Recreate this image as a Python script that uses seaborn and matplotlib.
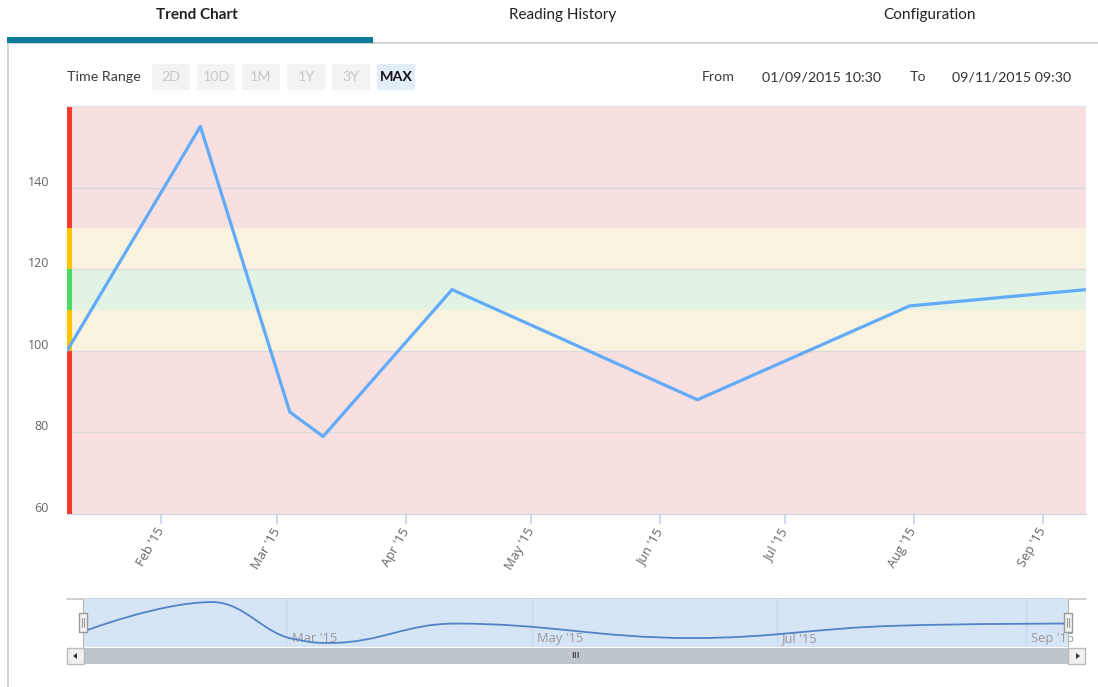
import matplotlib
matplotlib.use("Agg")
import matplotlib.pyplot as plt
import matplotlib.dates as mdates
from matplotlib.path import Path
from matplotlib.patches import PathPatch, Rectangle, Polygon
from matplotlib.transforms import ScaledTranslation
import numpy as np
import pandas as pd
import seaborn as sns

# ---- data ----
reading_times = ["2015-01-09 10:30", "2015-02-10 12:00", "2015-03-04 00:00", "2015-03-12 00:00",
                 "2015-04-12 00:00", "2015-06-10 00:00", "2015-07-31 00:00", "2015-09-11 09:30"]
reading_values = [100, 155, 85, 79, 115, 88, 111, 115]

range_start = "2015-01-09 10:30"
range_end = "2015-09-11 09:30"

month_ticks = ["2015-02-01", "2015-03-01", "2015-04-01", "2015-05-01",
               "2015-06-01", "2015-07-01", "2015-08-01", "2015-09-01"]
month_labels = ["Feb '15", "Mar '15", "Apr '15", "May '15",
                "Jun '15", "Jul '15", "Aug '15", "Sep '15"]

nav_ticks = ["2015-03-01", "2015-05-01", "2015-07-01", "2015-09-01"]
nav_labels = ["Mar '15", "May '15", "Jul '15", "Sep '15"]

y_ticks = [60, 80, 100, 120, 140]
y_min, y_max = 60, 160

# limit zones: lower bound, upper bound, fill, marker colour
zone_low = [60, 100, 110, 120, 130]
zone_high = [100, 110, 120, 130, 160]
zone_fill = ["#f8e0e0", "#f8f2de", "#e2f2e4", "#f8f2de", "#f8e0e0"]
zone_mark = ["#f53b30", "#ffc600", "#4cd964", "#ffc600", "#f53b30"]

tabs = ["Trend Chart", "Reading History", "Configuration"]
range_buttons = ["2D", "10D", "1M", "1Y", "3Y", "MAX"]
from_text = "01/09/2015 10:30"
to_text = "09/11/2015 09:30"

# ---- figure ----
sns.set_style("white")
plt.rcParams["font.family"] = ["Open Sans", "DejaVu Sans"]

W, H = 1098, 687
fig = plt.figure(figsize=(W / 100, H / 100), dpi=100)
fig.patch.set_facecolor("white")


def rect(x0, y0, x1, y1):
    return [x0 / W, 1 - y1 / H, (x1 - x0) / W, (y1 - y0) / H]


def overlay(z):
    a = fig.add_axes([0, 0, 1, 1], zorder=z)
    a.set_xlim(0, W)
    a.set_ylim(H, 0)
    a.axis("off")
    a.patch.set_alpha(0)
    return a


back = overlay(0)
front = overlay(5)

df = pd.DataFrame({"time": pd.to_datetime(reading_times, format="%Y-%m-%d %H:%M"),
                   "value": reading_values})
t0, t1 = pd.Timestamp(range_start), pd.Timestamp(range_end)

# ---- tab strip ----
ui_font = ["Lato", "DejaVu Sans"]
tab_x = [197, 563, 929]
for name, x in zip(tabs, tab_x):
    back.text(x, 15, name, ha="center", va="center", fontsize=11, family=ui_font,
              color="#222222", fontweight="bold" if name == "Trend Chart" else "normal")
back.add_patch(Rectangle((7, 42), W - 7, 2, color="#d3d3d3", lw=0))
back.add_patch(Rectangle((7, 37), 366, 6, color="#0b7b98", lw=0))
back.plot([8, 8], [44, H], color="#d6d6d6", lw=1.5)

# ---- time range row ----
back.text(67, 77, "Time Range", ha="left", va="center", fontsize=10.3,
          family=ui_font, color="#3c3c3c")
btn_x = [152, 197, 242, 287, 332, 377]
for label, x in zip(range_buttons, btn_x):
    active = label == "MAX"
    back.add_patch(Rectangle((x, 64), 38, 26, lw=0,
                             color="#e3edf8" if active else "#f3f3f3"))
    back.text(x + 19, 77, label, ha="center", va="center", fontsize=10.3,
              family=ui_font, color="#111111" if active else "#c8c8c8",
              fontweight="bold" if active else "normal")
back.text(702, 77, "From", ha="left", va="center", fontsize=10.3, family=ui_font, color="#3c3c3c")
back.text(762, 77, from_text, ha="left", va="center", fontsize=10.3, family=ui_font, color="#333333")
back.text(910, 77, "To", ha="left", va="center", fontsize=10.3, family=ui_font, color="#3c3c3c")
back.text(952, 77, to_text, ha="left", va="center", fontsize=10.3, family=ui_font, color="#333333")

# ---- main chart ----
ax = fig.add_axes(rect(67, 106, 1086, 514), zorder=2)
ax.set_xlim(t0, t1)
ax.set_ylim(y_min, y_max)

mark_w = 5 / 1019
for lo, hi, fc, mc in zip(zone_low, zone_high, zone_fill, zone_mark):
    ax.axhspan(lo, hi, color=fc, lw=0, zorder=1)
    ax.axhspan(lo, hi, xmin=0, xmax=mark_w, color=mc, lw=0, zorder=1.8)
for v in y_ticks:
    if y_min < v < y_max:
        ax.axhline(v, color="#dadada", lw=1, zorder=1.5)

sns.lineplot(data=df, x="time", y="value", ax=ax, color="#62abf8", lw=2.3,
             zorder=3, legend=False)
ax.set_xlabel("")
ax.set_ylabel("")

for side in ["left", "right"]:
    ax.spines[side].set_visible(False)
ax.spines["top"].set_color("#e4e4e4")
ax.spines["bottom"].set_color("#ccd6eb")

ax.set_yticks(y_ticks)
ax.set_yticklabels([str(v) for v in y_ticks])
ax.tick_params(axis="y", left=False, length=0, pad=13, labelsize=9, labelcolor="#666666")
lift = ScaledTranslation(0, 7 / 100, fig.dpi_scale_trans)
for lab in ax.get_yticklabels():
    lab.set_transform(lab.get_transform() + lift)

ax.set_xticks(pd.to_datetime(month_ticks))
ax.set_xticklabels(month_labels, rotation=60, ha="right", va="center",
                   rotation_mode="anchor")
ax.tick_params(axis="x", bottom=True, direction="out", length=7.5, width=1.2,
               color="#c6d2e8", pad=3, labelsize=9.3, labelcolor="#666666")

# ---- navigator ----
nav = fig.add_axes(rect(83, 599, 1068, 647), zorder=2)
nav.set_facecolor("#d6e5f6")
nav.set_xlim(t0, t1)
span = max(reading_values) - min(reading_values)
nav.set_ylim(min(reading_values) - 0.1 * span, max(reading_values) + 0.075 * span)
for s in nav.spines.values():
    s.set_visible(False)
for side in ("left", "right"):
    nav.spines[side].set_visible(True)
    nav.spines[side].set_color("#b8b8b8")
nav.set_xticks([])
nav.set_yticks([])
for d, lab in zip(pd.to_datetime(nav_ticks), nav_labels):
    nav.axvline(d, color="#c8d9ee", lw=1, zorder=1)
    nav.text(d + pd.Timedelta(days=1.3), 0.17, lab, transform=nav.get_xaxis_transform(),
             ha="left", va="center", fontsize=9.3, color="#999999", zorder=2)

# smoothed navigator series (spline through the readings)
xs = mdates.date2num(df["time"])
ys = np.asarray(reading_values, dtype=float)
n = len(xs)
sm = 1.5
lc = [(xs[i], ys[i]) for i in range(n)]
rc = [(xs[i], ys[i]) for i in range(n)]
for i in range(1, n - 1):
    px, py = xs[i], ys[i]
    ax0, ay0 = xs[i - 1], ys[i - 1]
    nx, ny = xs[i + 1], ys[i + 1]
    lcx, lcy = (sm * px + ax0) / (sm + 1), (sm * py + ay0) / (sm + 1)
    rcx, rcy = (sm * px + nx) / (sm + 1), (sm * py + ny) / (sm + 1)
    corr = (rcy - lcy) * (rcx - px) / (rcx - lcx) + py - rcy
    lcy += corr
    rcy += corr
    if lcy > ay0 and lcy > py:
        lcy = max(ay0, py); rcy = 2 * py - lcy
    elif lcy < ay0 and lcy < py:
        lcy = min(ay0, py); rcy = 2 * py - lcy
    if rcy > ny and rcy > py:
        rcy = max(ny, py); lcy = 2 * py - rcy
    elif rcy < ny and rcy < py:
        rcy = min(ny, py); lcy = 2 * py - rcy
    lc[i] = (lcx, lcy)
    rc[i] = (rcx, rcy)
verts = [(xs[0], ys[0])]
codes = [Path.MOVETO]
for i in range(1, n):
    verts += [rc[i - 1], lc[i], (xs[i], ys[i])]
    codes += [Path.CURVE4] * 3
nav.add_patch(PathPatch(Path(verts, codes), fill=False, edgecolor="#5283c6",
                        lw=1.3, zorder=3))

# navigator frame, handles and scrollbar
back.plot([67, 1086], [599, 599], color="#c8c8c8", lw=1.2)
front.add_patch(Rectangle((83, 648), 985, 16, color="#c0c6cd", lw=0))
front.text(576, 656, "III", ha="center", va="center", fontsize=6.5,
           color="#555555", fontweight="bold")
for bx in (67, 1068):
    front.add_patch(Rectangle((bx, 648), 17, 16, facecolor="#f0f0f0",
                              edgecolor="#bbbbbb", lw=1))
front.add_patch(Polygon([[77, 653], [77, 659], [73, 656]], color="#333333", lw=0))
front.add_patch(Polygon([[1076, 653], [1076, 659], [1080, 656]], color="#333333", lw=0))
for hx in (83, 1068):
    front.add_patch(Rectangle((hx - 4, 613), 8, 19, facecolor="#f2f2f2",
                              edgecolor="#999999", lw=1))
    front.plot([hx - 1, hx - 1], [618, 627], color="#999999", lw=0.8)
    front.plot([hx + 1, hx + 1], [618, 627], color="#999999", lw=0.8)

fig.savefig("out.png", dpi=100, facecolor="white")
